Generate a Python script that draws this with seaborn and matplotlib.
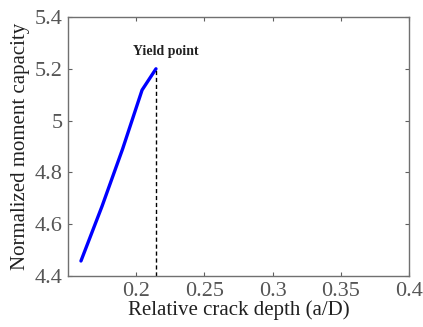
import matplotlib
matplotlib.use("Agg")
import matplotlib.pyplot as plt
import seaborn as sns
import pandas as pd

crack_depth = [0.1595, 0.175, 0.190, 0.2043, 0.2145]
moment_capacity = [4.458, 4.67, 4.89, 5.118, 5.20]
yield_x = 0.2145
yield_y = 5.20
xticks = [0.2, 0.25, 0.3, 0.35, 0.4]
yticks = [4.4, 4.6, 4.8, 5.0, 5.2, 5.4]
xtick_labels = ["0.2", "0.25", "0.3", "0.35", "0.4"]
ytick_labels = ["4.4", "4.6", "4.8", "5", "5.2", "5.4"]

sns.set_style("white")
plt.rcParams['font.family'] = ['Liberation Serif', 'DejaVu Serif']

df = pd.DataFrame({"x": crack_depth, "y": moment_capacity})

fig = plt.figure(figsize=(4.23, 3.27), dpi=100)
ax = fig.add_axes([68/423, 1-276/327, (409-68)/423, (276-17)/327])
sns.lineplot(data=df, x="x", y="y", ax=ax, color="#0000ff", linewidth=2.4, sort=False)
ax.plot([yield_x, yield_x], [4.4, yield_y], color="black", linestyle=(0, (3, 2)), linewidth=1.0)
ax.text(yield_x + 0.0075, yield_y + 0.068, "Yield point", fontsize=10, ha="center", va="center", fontweight="bold", color="#222222")

ax.set_xlim(0.15, 0.4)
ax.set_ylim(4.4, 5.4)
ax.set_xticks(xticks)
ax.set_xticklabels(xtick_labels)
ax.set_yticks(yticks)
ax.set_yticklabels(ytick_labels)
ax.tick_params(direction="in", length=3, width=0.8, color="#606060", labelsize=16, labelcolor="#555555",
               top=True, right=True, bottom=True, left=True, pad=4)
for s in ax.spines.values():
    s.set_color("#707070")
    s.set_linewidth(1.0)
ax.set_xlabel("Relative crack depth (a/D)", fontsize=15, color="#202020", labelpad=0)
ax.set_ylabel("Normalized moment capacity", fontsize=15, color="#202020", labelpad=3)

fig.savefig("out.png", dpi=100)
